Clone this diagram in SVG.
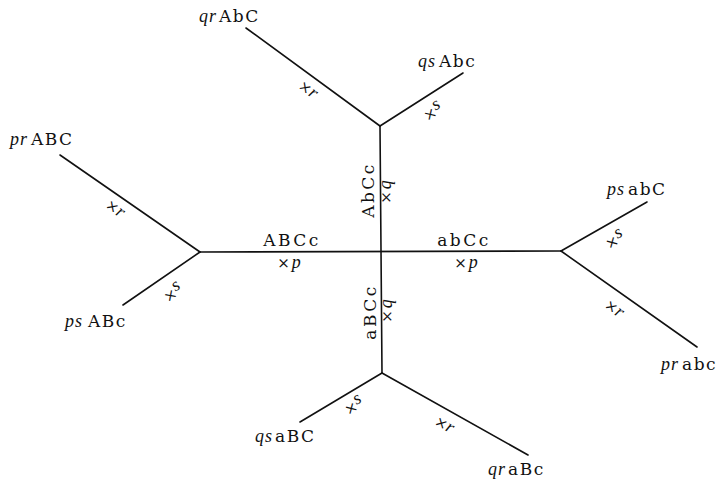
<svg xmlns="http://www.w3.org/2000/svg" width="718" height="484" viewBox="0 0 718 484">
<style>
.ln{stroke:#111;stroke-width:1.6;fill:none;stroke-linecap:round}
text{fill:#111}
.it{font-family:"Liberation Serif",serif;font-style:italic;font-size:18px;letter-spacing:1px}
.up{font-family:"DejaVu Serif","Liberation Serif",serif;font-size:17px;letter-spacing:1.5px}
.mk{font-family:"DejaVu Serif","Liberation Serif",serif;font-size:15px;text-anchor:middle}
.mk .v{font-family:"Liberation Serif",serif;font-style:italic;font-size:18px}
.el{font-family:"DejaVu Serif","Liberation Serif",serif;font-size:17px;letter-spacing:2.5px;text-anchor:middle}
</style>
<rect width="718" height="484" fill="#fff"/>
<g id="connectors">
<line class="ln" x1="200" y1="252" x2="561" y2="251"/>
<line class="ln" x1="380" y1="126" x2="382" y2="373"/>
<line class="ln" x1="246" y1="28" x2="380" y2="126"/>
<line class="ln" x1="380" y1="126" x2="463" y2="73"/>
<line class="ln" x1="60" y1="155" x2="200" y2="252"/>
<line class="ln" x1="200" y1="252" x2="123" y2="305"/>
<line class="ln" x1="561" y1="251" x2="647" y2="202"/>
<line class="ln" x1="561" y1="251" x2="697" y2="347"/>
<line class="ln" x1="382" y1="373" x2="300" y2="422"/>
<line class="ln" x1="382" y1="373" x2="528" y2="455"/>
</g>
<g id="edge-labels">
<text class="el" x="292" y="246">ABCc</text>
<text class="mk" x="289" y="268">×<tspan class="v" dx="2">p</tspan></text>
<text class="el" x="464" y="246">abCc</text>
<text class="mk" x="466" y="268">×<tspan class="v" dx="2">p</tspan></text>
<text class="el" transform="translate(374,191) rotate(-90)" x="1" y="0">AbCc</text>
<text class="mk" transform="translate(391,192) rotate(-90)">×<tspan class="v" dx="2">q</tspan></text>
<text class="el" transform="translate(376,313) rotate(-90)" x="1" y="0">aBCc</text>
<text class="mk" transform="translate(392,311) rotate(-90)">×<tspan class="v" dx="2">q</tspan></text>
<text class="mk" transform="translate(310,87) rotate(36.2)" y="8">×<tspan class="v">r</tspan></text>
<text class="mk" transform="translate(431,109) rotate(-32.6)" y="9">×<tspan class="v" dy="-5">s</tspan></text>
<text class="mk" transform="translate(117,206) rotate(34.7)" y="8">×<tspan class="v">r</tspan></text>
<text class="mk" transform="translate(171,290) rotate(-34.5)" y="9">×<tspan class="v" dy="-5">s</tspan></text>
<text class="mk" transform="translate(613,237) rotate(-30.2)" y="9">×<tspan class="v" dy="-5">s</tspan></text>
<text class="mk" transform="translate(616,306) rotate(34.9)" y="8">×<tspan class="v">r</tspan></text>
<text class="mk" transform="translate(352,403) rotate(-30.9)" y="9">×<tspan class="v" dy="-5">s</tspan></text>
<text class="mk" transform="translate(446,422) rotate(29.3)" y="8">×<tspan class="v">r</tspan></text>
</g>
<g id="n-qrAbC"><text y="22"><tspan class="it" x="199">qr</tspan><tspan class="up" x="219">AbC</tspan></text></g>
<g id="n-qsAbc"><text y="67"><tspan class="it" x="418">qs</tspan><tspan class="up" x="439">Abc</tspan></text></g>
<g id="n-prABC"><text y="145"><tspan class="it" x="10">pr</tspan><tspan class="up" x="31">ABC</tspan></text></g>
<g id="n-psABc"><text y="327"><tspan class="it" x="65">ps</tspan><tspan class="up" x="88">ABc</tspan></text></g>
<g id="n-psabC"><text y="195"><tspan class="it" x="607">ps</tspan><tspan class="up" x="628">abC</tspan></text></g>
<g id="n-prabc"><text y="370"><tspan class="it" x="661">pr</tspan><tspan class="up" x="682">abc</tspan></text></g>
<g id="n-qsaBC"><text y="442"><tspan class="it" x="255">qs</tspan><tspan class="up" x="275">aBC</tspan></text></g>
<g id="n-qraBc"><text y="475"><tspan class="it" x="488">qr</tspan><tspan class="up" x="508">aBc</tspan></text></g>
</svg>
